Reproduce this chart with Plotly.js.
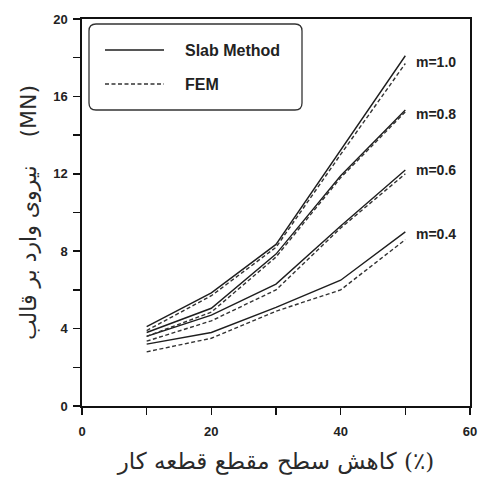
<!DOCTYPE html>
<html><head><meta charset="utf-8">
<script src="https://cdn.plot.ly/plotly-3.0.1.min.js"></script>
<style>html,body{margin:0;padding:0;background:#fff}#c{width:478px;height:479px}</style>
</head><body><div id="c"></div>
<script>
// Data
const reduction = [10, 20, 30, 40, 50];
const mValues = ['m=1.0', 'm=0.8', 'm=0.6', 'm=0.4'];
const slab_m10 = [4.1, 5.85, 8.35, 13.2, 18.1];
const fem_m10  = [3.9, 5.7, 8.2, 13.0, 17.7];
const slab_m08 = [3.8, 5.05, 7.85, 11.9, 15.3];
const fem_m08  = [3.6, 4.85, 7.7, 11.8, 15.2];
const slab_m06 = [3.6, 4.7, 6.3, 9.3, 12.2];
const fem_m06  = [3.35, 4.4, 6.0, 9.2, 12.0];
const slab_m04 = [3.2, 3.8, 5.1, 6.5, 9.0];
const fem_m04  = [2.8, 3.5, 4.9, 6.0, 8.6];
const labelY = [17.8, 15.1, 12.2, 8.9];
const legendNames = ['Slab Method', 'FEM'];
const xTitle = 'کاهش سطح مقطع قطعه کار (٪)';
const yTitle = 'نیروی وارد بر قالب    (MN)';

const slab = [slab_m10, slab_m08, slab_m06, slab_m04];
const fem = [fem_m10, fem_m08, fem_m06, fem_m04];
const col = '#1e1e1e';
const traces = [];
slab.forEach((s, i) => traces.push({x: reduction, y: s, mode: 'lines', type: 'scatter',
  line: {color: col, width: 1.4}, name: legendNames[0], showlegend: false}));
fem.forEach((s, i) => traces.push({x: reduction, y: s, mode: 'lines', type: 'scatter',
  line: {color: '#333', width: 1.4, dash: '4px,2.5px'}, name: legendNames[1], showlegend: false}));

// pixel -> paper helpers for the plot area (l=82, r=470, t=19, b=406)
const L = 82, R = 470, T = 19, B = 406;
const px = p => (p - L) / (R - L);
const py = p => (B - p) / (B - T);

function roundRect(x0, y0, x1, y1, r) {
  const X0 = px(x0), X1 = px(x1), Y0 = py(y0), Y1 = py(y1);
  const rx = r / (R - L), ry = r / (B - T);
  return `M${X0 + rx},${Y0} L${X1 - rx},${Y0} Q${X1},${Y0} ${X1},${Y0 - ry} L${X1},${Y1 + ry} Q${X1},${Y1} ${X1 - rx},${Y1} L${X0 + rx},${Y1} Q${X0},${Y1} ${X0},${Y1 + ry} L${X0},${Y0 - ry} Q${X0},${Y0} ${X0 + rx},${Y0} Z`;
}

const shapes = [
  {type: 'path', xref: 'paper', yref: 'paper', path: roundRect(89, 24, 302, 110, 7),
   line: {color: '#333', width: 1.3}, fillcolor: 'rgba(0,0,0,0)'},
  {type: 'line', xref: 'paper', yref: 'paper', x0: px(105), x1: px(164), y0: py(50), y1: py(50),
   line: {color: col, width: 1.4}},
  {type: 'line', xref: 'paper', yref: 'paper', x0: px(105), x1: px(164), y0: py(84), y1: py(84),
   line: {color: '#333', width: 1.4, dash: '4px,2.5px'}}
];

const annotations = [
  {xref: 'paper', yref: 'paper', x: px(183), y: py(50), xanchor: 'left', yanchor: 'middle', showarrow: false,
   text: '<b>' + legendNames[0] + '</b>', font: {family: 'Liberation Sans, Arial', size: 16, color: '#222'}},
  {xref: 'paper', yref: 'paper', x: px(183), y: py(84), xanchor: 'left', yanchor: 'middle', showarrow: false,
   text: '<b>' + legendNames[1] + '</b>', font: {family: 'Liberation Sans, Arial', size: 16, color: '#222'}}
];
mValues.forEach((m, i) => annotations.push({x: 51.3, y: labelY[i], xref: 'x', yref: 'y', xanchor: 'left',
  yanchor: 'middle', showarrow: false, text: '<b>' + m + '</b>',
  font: {family: 'Liberation Sans, Arial', size: 14, color: '#222'}}));

const axisCommon = {showgrid: false, zeroline: false, showline: true, mirror: true, linecolor: '#111', linewidth: 1.6,
  ticks: 'outside', ticklen: 7, tickwidth: 1.5, tickcolor: '#111',
  tickfont: {family: 'Liberation Sans, Arial', size: 13, color: '#222'}};

const layout = {
  width: 478, height: 479, margin: {l: L, r: 478 - R, t: T, b: 479 - B},
  paper_bgcolor: '#fff', plot_bgcolor: '#fff', showlegend: false,
  xaxis: Object.assign({}, axisCommon, {range: [0, 60], tickvals: [0, 20, 40, 60], ticktext: ['<b>0</b>', '<b>20</b>', '<b>40</b>', '<b>60</b>'],
    ticklabelstandoff: 6,
    minor: {ticks: 'outside', ticklen: 7, tickwidth: 1.5, tickcolor: '#111', tickvals: [10, 30, 50]},
    title: {text: xTitle, standoff: 14, font: {family: 'DejaVu Serif, DejaVu Sans', size: 23, color: '#2a2a2a'}}}),
  yaxis: Object.assign({}, axisCommon, {range: [0, 20], tickvals: [0, 4, 8, 12, 16, 20], ticktext: ['<b>0</b>', '<b>4</b>', '<b>8</b>', '<b>12</b>', '<b>16</b>', '<b>20</b>'],
    ticklabelstandoff: 3,
    minor: {ticks: 'outside', ticklen: 7, tickwidth: 1.5, tickcolor: '#111', tickvals: [2, 6, 10, 14, 18]},
    title: {text: yTitle, standoff: 10, font: {family: 'DejaVu Sans', size: 22, color: '#2a2a2a'}}}),
  shapes: shapes, annotations: annotations
};
Plotly.newPlot('c', traces, layout, {displayModeBar: false, staticPlot: true});
</script></body></html>
